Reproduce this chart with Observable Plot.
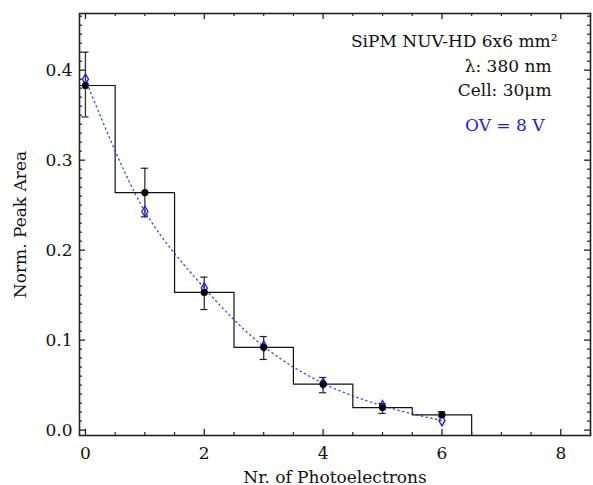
<!DOCTYPE html>
<html><head><meta charset="utf-8">
<script src="https://cdn.jsdelivr.net/npm/d3@7"></script>
<script src="https://cdn.jsdelivr.net/npm/@observablehq/plot@0.6"></script>
<style>body{margin:0;background:#fff} svg{display:block;background:#fff}</style>
</head><body><div id="chart"></div>
<script>
// Data
const photoelectrons = [0, 1, 2, 3, 4, 5, 6];
const measured   = [0.383, 0.264, 0.153, 0.092, 0.051, 0.025, 0.017];
const errTop     = [0.420, 0.291, 0.170, 0.104, 0.0585, 0.0296, 0.0204];
const errBottom  = [0.348, 0.237, 0.134, 0.0785, 0.0415, 0.0185, 0.0148];
const model      = [0.390, 0.243, 0.158, 0.093, 0.052, 0.027, 0.0105];

const xTickLabels = [0, 2, 4, 6, 8];
const xMinorTicks = [0.5, 1, 1.5, 2.5, 3, 3.5, 4.5, 5, 5.5, 6.5, 7, 7.5, 8.5];
const yTickLabels = [0, 0.1, 0.2, 0.3, 0.4];
const yMinorTicks = d3.range(0, 0.465, 0.01).filter(v => Math.abs(v * 10 - Math.round(v * 10)) > 1e-6);

const xDomain = [-0.1, 8.5];
const yDomain = [-0.006, 0.463];

const infoLines = ["SiPM NUV-HD 6x6 mm\u00b2", "\u03bb: 380 nm", "Cell: 30\u03bcm"];
const ovLabel = "OV = 8 V";

const pts = photoelectrons.map((n, i) => ({n, v: measured[i], top: errTop[i], bot: errBottom[i], m: model[i]}));
const steps = pts.map(d => ({x: d.n - 0.5, y: d.v})).concat([{x: photoelectrons[photoelectrons.length - 1] + 0.5, y: yDomain[0]}]);

const W = 593, H = 485;
const mL = 79, mR = 3, mT = 13, mB = 50;
const fw = W - mL - mR, fh = H - mT - mB;
const major = 6, minor = 3;
const blue = "#1a1aff";
const font = "DejaVu Serif, serif";
const fs = 17;

const plot = Plot.plot({
  width: W, height: H,
  marginLeft: mL, marginRight: mR, marginTop: mT, marginBottom: mB,
  style: {fontFamily: font, fontSize: fs + "px", color: "#111", background: "#fff"},
  x: {domain: xDomain},
  y: {domain: yDomain},
  marks: [
    Plot.line(steps, {x: "x", y: "y", curve: "step-after", stroke: "#111", strokeWidth: 1.2, clip: true}),
    Plot.line(pts, {x: "n", y: "m", curve: "catmull-rom", stroke: blue, strokeWidth: 1.3, strokeDasharray: "1.3,3.5", strokeOpacity: 0.85}),
    Plot.ruleX(pts, {x: "n", y1: "bot", y2: "top", stroke: "#333", strokeWidth: 1.3}),
    Plot.ruleY(pts, {y: "top", x1: d => d.n - 0.06, x2: d => d.n + 0.06, stroke: "#222", strokeWidth: 1.2}),
    Plot.ruleY(pts, {y: "bot", x1: d => d.n - 0.06, x2: d => d.n + 0.06, stroke: "#222", strokeWidth: 1.2}),
    Plot.dot(pts, {x: "n", y: "m", symbol: "diamond", r: 3.2, stroke: blue, strokeWidth: 1.3, fill: "none"}),
    Plot.dot(pts, {x: "n", y: "v", r: 3.6, fill: "#000"}),
    Plot.tickY(yTickLabels, {y: d => d, insetRight: fw - major, stroke: "#222", strokeWidth: 1.3}),
    Plot.tickY(yTickLabels, {y: d => d, insetLeft: fw - major, stroke: "#222", strokeWidth: 1.3}),
    Plot.tickY(yMinorTicks, {y: d => d, insetRight: fw - minor, stroke: "#222", strokeWidth: 1.2}),
    Plot.tickY(yMinorTicks, {y: d => d, insetLeft: fw - minor, stroke: "#222", strokeWidth: 1.2}),
    Plot.tickX(xTickLabels, {x: d => d, insetTop: fh - major, stroke: "#222", strokeWidth: 1.3}),
    Plot.tickX(xTickLabels, {x: d => d, insetBottom: fh - major, stroke: "#222", strokeWidth: 1.3}),
    Plot.tickX(xMinorTicks, {x: d => d, insetTop: fh - minor, stroke: "#222", strokeWidth: 1.2}),
    Plot.tickX(xMinorTicks, {x: d => d, insetBottom: fh - minor, stroke: "#222", strokeWidth: 1.2}),
    Plot.axisX({ticks: xTickLabels, tickSize: 0, tickPadding: 11, tickFormat: d3.format("d"), fontSize: fs,
      label: "Nr. of Photoelectrons", labelAnchor: "center", labelArrow: "none", labelOffset: 47}),
    Plot.axisY({ticks: yTickLabels, tickSize: 0, tickPadding: 7, tickFormat: d3.format(".1f"), fontSize: fs,
      label: "Norm. Peak Area", labelAnchor: "center", labelArrow: "none", labelOffset: 66}),
    Plot.frame({stroke: "#222", strokeWidth: 1.6}),
    Plot.text([infoLines[0]], {text: d => d, frameAnchor: "top-right", textAnchor: "end", dx: -33, dy: 21, fontSize: fs, fill: "#111"}),
    Plot.text([infoLines[1]], {text: d => d, frameAnchor: "top-right", textAnchor: "end", dx: -39, dy: 46, fontSize: fs, fill: "#111"}),
    Plot.text([infoLines[2]], {text: d => d, frameAnchor: "top-right", textAnchor: "end", dx: -39, dy: 70, fontSize: fs, fill: "#111"}),
    Plot.text([ovLabel], {text: d => d, frameAnchor: "top-right", textAnchor: "end", dx: -46, dy: 105, fontSize: fs, fill: blue}),
  ]
});
document.getElementById("chart").appendChild(plot);
</script>
</body></html>
